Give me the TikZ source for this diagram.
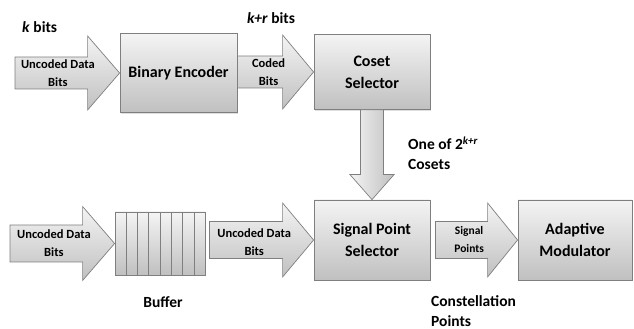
\documentclass[tikz,border=0pt]{standalone}
\usepackage{fontspec}
\setmainfont{Carlito}
\usetikzlibrary{calc,positioning,shadows}

\definecolor{boxtop}{HTML}{F4F4F4}
\definecolor{boxbot}{HTML}{C0C0C0}
\definecolor{edgegray}{HTML}{7F7F7F}

% horizontal block arrow: tail, tip, half shaft, half head, head length
\newcommand{\harrow}[5]{%
  \path[arrowbody,top color=boxtop,bottom color=boxbot] let \p1=(#1), \p2=(#2) in
    (\x1,\y2+#3pt) -- (\x2-#5pt,\y2+#3pt) -- (\x2-#5pt,\y2+#4pt) -- (\x2,\y2)
    -- (\x2-#5pt,\y2-#4pt) -- (\x2-#5pt,\y2-#3pt) -- (\x1,\y2-#3pt) -- cycle;}
% vertical block arrow, pointing down
\newcommand{\varrow}[5]{%
  \path[arrowbody,left color=boxtop,right color=boxbot] let \p1=(#1), \p2=(#2) in
    (\x2-#3pt,\y1) -- (\x2-#3pt,\y2+#5pt) -- (\x2-#4pt,\y2+#5pt) -- (\x2,\y2)
    -- (\x2+#4pt,\y2+#5pt) -- (\x2+#3pt,\y2+#5pt) -- (\x2+#3pt,\y1) -- cycle;}

\begin{document}
\begin{tikzpicture}[x=1pt,y=1pt,font=\bfseries,
  block/.style={draw=edgegray,line width=0.8pt,top color=boxtop,bottom color=boxbot,
    align=center,inner sep=0pt,font=\bfseries\fontsize{16}{22}\selectfont,
    drop shadow={opacity=0.25,shadow xshift=1.2pt,shadow yshift=-1.2pt}},
  arrowbody/.style={draw=edgegray,line width=0.7pt},
  arrowlabel/.style={align=center,inner sep=0pt,font=\bfseries\fontsize{12.5}{18}\selectfont},
  note/.style={inner sep=0pt,font=\bfseries\fontsize{15.5}{20}\selectfont},
  bufline/.style={draw=edgegray,line width=0.6pt}]
\useasboundingbox (0,0) rectangle (634,329);

% blocks
\node[block,minimum width=117,minimum height=79] (enc) at (178.5,256) {Binary Encoder};
\node[block,minimum width=116,minimum height=75] (coset) at (372,257) {Coset\\Selector};
\node[block,minimum width=116,minimum height=80] (sps) at (372,89) {Signal Point\\Selector};
\node[block,minimum width=114,minimum height=80] (mod) at (575,89) {Adaptive\\Modulator};
\node[block,minimum width=90,minimum height=63,drop shadow={opacity=0}] (buf) at (160,85.5) {};
\foreach \i in {1,...,7}
  \draw[bufline] ($(buf.south west)!\i/8!(buf.south east)$) -- ($(buf.north west)!\i/8!(buf.north east)$);

% free ends
\coordinate (in1) at (15,256);
\coordinate (in2) at (10,85.5);
\coordinate (bufout) at ($(buf.east)+(4,0)$);
\coordinate (spsout) at ($(sps.east)+(5,0)$);

% block arrows
\harrow{in1}{enc.west}{16}{37}{32}
\harrow{enc.east}{coset.west}{16}{37}{31}
\varrow{coset.south}{sps.north}{11.5}{22}{25}
\harrow{in2}{buf.west}{18.5}{37}{32}
\harrow{bufout}{sps.west}{18.5}{37}{31}
\harrow{spsout}{mod.west}{18.5}{37}{30}

\node[arrowlabel] (lbl1) at ($(in1)!0.41!(enc.west)$) {Uncoded Data\\Bits};
\node[arrowlabel] (lbl2) at ($(enc.east)!0.41!(coset.west)$) {Coded\\Bits};
\node[arrowlabel] (lbl3) at ($(in2)!0.42!(buf.west)$) {Uncoded Data\\Bits};
\node[arrowlabel] (lbl4) at ($(bufout)!0.43!(sps.west)$) {Uncoded Data\\Bits};
\node[arrowlabel,font=\bfseries\fontsize{11.5}{18}\selectfont] (lbl5) at ($(spsout)!0.41!(mod.west)$) {Signal\\Points};

% notes
\node[note,anchor=west] (kbits) at (22,302) {\textit{k} bits};
\node[note] (krbits) at (271,311) {\textit{k+r} bits};
\node[note,anchor=west,align=left] (cosets) at (408,176) {One of 2\textsuperscript{\textit{k+r}}\\Cosets};
\node[note] (bufname) at (163,27) {Buffer};
\node[note,anchor=west,align=left] (constpts) at (431,18) {Constellation\\Points};
\end{tikzpicture}
\end{document}
